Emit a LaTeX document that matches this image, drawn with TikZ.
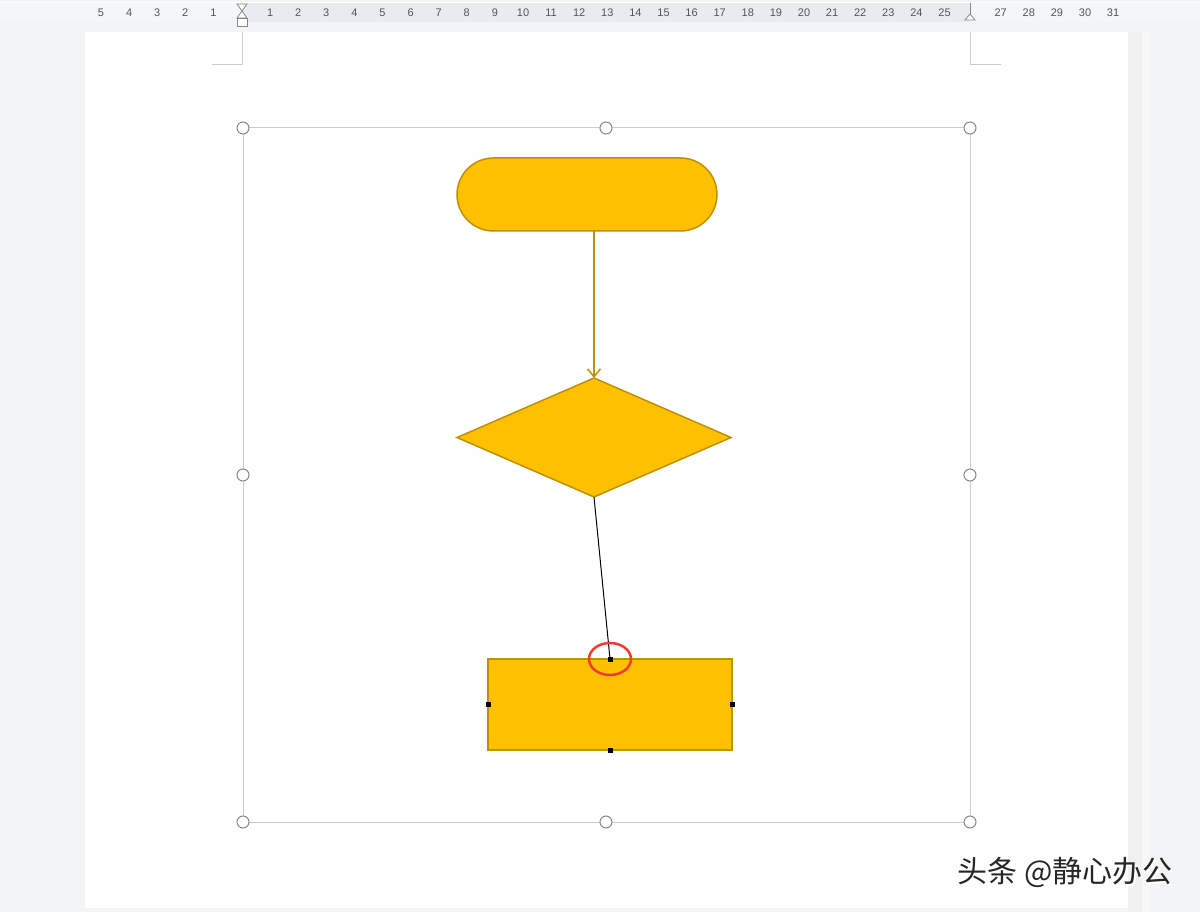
\documentclass[tikz,border=0pt]{standalone}
\usepackage{fontspec}
\setmainfont{Liberation Sans}
\newfontfamily\cjk{Noto Sans CJK SC}
\usetikzlibrary{shapes.geometric,shapes.misc,arrows.meta}
\definecolor{bggray}{HTML}{F3F4F6}
\definecolor{rulerband}{HTML}{E8EBF0}
\definecolor{rulerside}{HTML}{F5F6F8}
\definecolor{shapefill}{HTML}{FFC000}
\definecolor{shapeline}{HTML}{BF9000}
\definecolor{framegray}{HTML}{CCCCCC}
\definecolor{handlegray}{HTML}{888888}
\definecolor{rulertext}{HTML}{555555}
\definecolor{markred}{HTML}{F03C32}
\tikzset{
  flowshape/.style={fill=shapefill,draw=shapeline,line width=1.5pt,inner sep=0pt,outer sep=0pt},
  terminal/.style={flowshape,rounded rectangle,minimum width=260pt,minimum height=73pt},
  decision/.style={flowshape,diamond,minimum width=274pt,minimum height=119pt},
  process/.style={flowshape,rectangle,minimum width=244pt,minimum height=91pt},
  handle/.style={circle,draw=handlegray,fill=white,line width=1pt,minimum size=12pt,inner sep=0pt},
  sqhandle/.style={rectangle,fill=black,minimum size=5pt,inner sep=0pt},
  rulernum/.style={font=\fontsize{11}{11}\selectfont,text=rulertext,inner sep=0pt},
  cornermark/.style={draw=framegray,line width=1pt}
}
\begin{document}
\begin{tikzpicture}[x=1pt,y=-1pt]
\useasboundingbox (0,0) rectangle (1200,912);
\fill[bggray] (0,0) rectangle (1200,912);
% ruler
\fill[rulerside] (0,3) rectangle (1200,22);
\fill[rulerband] (242,3) rectangle (970,22);
\draw[white,line width=1pt] (0,3) -- (1200,3);
\foreach \n [count=\i] in {5,4,3,2,1} {
  \node[rulernum] at ({101+28.1*(\i-1)},13) {\n};
}
\foreach \n in {1,...,25} {
  \node[rulernum] at ({242+28.1*\n},13) {\n};
}
\foreach \n in {27,...,31} {
  \node[rulernum] at ({242+28.1*\n},13) {\n};
}
% ruler markers
\draw[handlegray,line width=0.8pt,fill=white] (237,4) -- (247,4) -- (242,11) -- cycle;
\draw[handlegray,line width=0.8pt,fill=white] (242,11) -- (237,18) -- (247,18) -- cycle;
\draw[handlegray,line width=0.8pt,fill=white] (237,18) rectangle (247,26);
\draw[handlegray,line width=0.8pt] (970,3) -- (970,14);
\draw[handlegray,line width=0.8pt,fill=white] (965,20) -- (970,14) -- (975,20) -- cycle;
% page
\fill[black!6] (1128,32) rectangle (1142,912);
\fill[black!3] (1142,32) rectangle (1150,912);
\fill[white] (85,32) rectangle (1128,908);
\draw[cornermark] (242,32) -- (242,65) -- (212,65);
\draw[cornermark] (970,32) -- (970,65) -- (1001,65);
% selection frame
\draw[framegray,line width=1pt] (243,128) rectangle (970,822);
\foreach \p/\q [count=\k] in {243/128,606/128,970/128,243/475,970/475,243/822,606/822,970/822} {
  \node[handle] (h\k) at (\p,\q) {};
}
% flowchart shapes
\node[terminal] (start) at (587,194.5) {};
\node[decision] (dec) at (594,437.5) {};
\node[process] (proc) at (610,704.5) {};
% connectors
\draw[shapeline,line width=1.5pt,-{Straight Barb[length=8pt,width=13pt]}] (594,231) -- (dec.north);
\draw[black,line width=1pt] (dec.south) -- (proc.north);
% connection handles
\node[sqhandle] at (proc.north) {};
\node[sqhandle] at (proc.west) {};
\node[sqhandle] at (proc.east) {};
\node[sqhandle] at (proc.south) {};
% red mark
\draw[markred,line width=2.5pt] (proc.north) ellipse (21pt and 16pt);
% watermark
\node[font=\cjk\fontsize{30}{30}\selectfont,text=white,inner sep=0pt] at (1067,874) {头条 @静心办公};
\node[font=\cjk\fontsize{30}{30}\selectfont,text=black!85,inner sep=0pt] (wm) at (1065,872) {头条 @静心办公};
\end{tikzpicture}
\end{document}
